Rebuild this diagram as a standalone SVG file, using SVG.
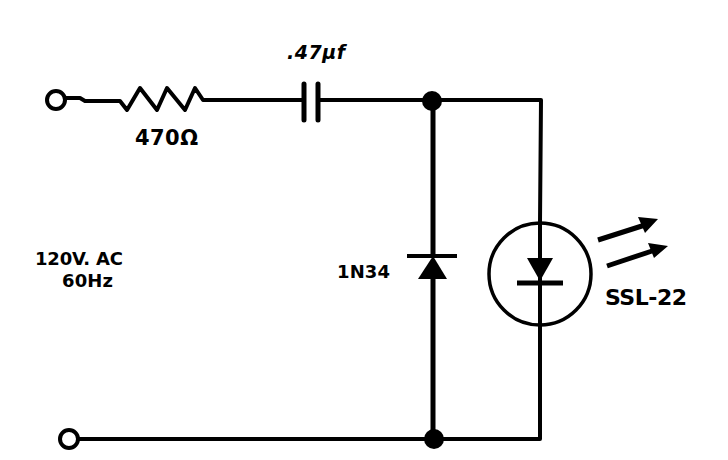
<svg xmlns="http://www.w3.org/2000/svg" width="728" height="460" viewBox="0 0 728 460">
<style>
.w{fill:none;stroke:#000;stroke-width:4;stroke-linejoin:round}
.t{font-family:"DejaVu Sans",sans-serif;font-weight:bold;fill:#000;font-size:18px}
.f{fill:#000;stroke:none}
</style>
<rect width="728" height="460" fill="#fff"/>
<g id="connectors">
<path class="w" d="M65 98H80L85 101H120L127 110L140 88L157 110L167 88L185 110L195 88L203 100H304"/>
<path class="w" d="M318 100H432"/>
<path class="w" d="M432 100H541L540 222"/>
<path class="w" d="M433 100V256M433 279V438" style="stroke-width:5"/>
<path class="w" d="M78 439H434H540V327"/>
<path class="w" d="M540 222V327"/>
</g>
<g id="terminal-top"><circle class="w" cx="56" cy="100" r="9"/></g>
<g id="terminal-bottom"><circle class="w" cx="69" cy="439" r="9"/></g>
<g id="junction-top"><circle class="f" cx="432" cy="101" r="10"/></g>
<g id="junction-bottom"><circle class="f" cx="434" cy="439" r="10"/></g>
<g id="resistor"><text class="t" x="135" y="145" textLength="63" style="font-size:21px">470Ω</text></g>
<g id="capacitor">
<path class="w" d="M304 84V120M318 84V120" style="stroke-width:5;stroke-linecap:round"/>
<text class="t" x="287" y="59" textLength="58" font-style="italic" style="font-size:19px">.47µf</text>
</g>
<g id="diode-1N34">
<path class="w" d="M407 256H457"/>
<path class="f" d="M433 256L447 279H418Z"/>
<text class="t" x="337" y="278" textLength="53">1N34</text>
</g>
<g id="led-SSL-22">
<circle class="w" cx="540" cy="274" r="51" style="stroke-width:3.5"/>
<path class="f" d="M527 258H553L540 281Z"/>
<path class="w" d="M517 283H563" style="stroke-width:5"/>
<path class="w" d="M598 240L645 225M607 266L652 251" style="stroke-width:5"/>
<path class="f" d="M638 217L658 219L645 233ZM648 243L668 246L654 258Z"/>
<text class="t" x="605" y="305" textLength="82" style="font-size:22px">SSL-22</text>
</g>
<g id="source-label">
<text class="t" x="35" y="265" textLength="88">120V. AC</text>
<text class="t" x="62" y="287" textLength="51">60Hz</text>
</g>
</svg>
